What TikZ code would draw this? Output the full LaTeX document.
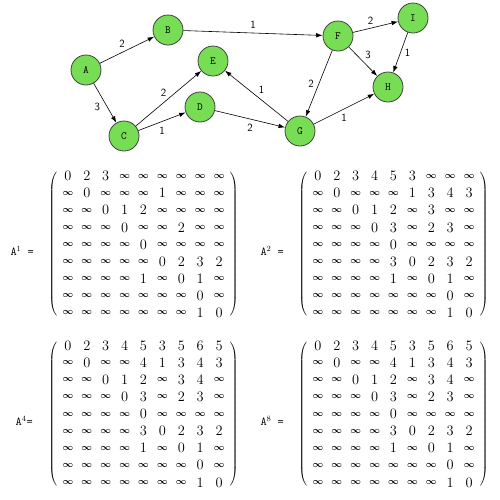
\documentclass[tikz,border=0pt]{standalone}
\usetikzlibrary{matrix,arrows.meta}
\definecolor{vgreen}{HTML}{77DD55}
\newcommand{\oo}{\mbox{\fontsize{9}{9}\selectfont\boldmath$\infty$}}
\begin{document}
\begin{tikzpicture}[x=1pt,y=-1pt,
  vertex/.style={circle,draw=black!75,line width=0.8pt,fill=vgreen,minimum size=30pt,inner sep=0pt,font=\ttfamily\fontsize{11}{11}\selectfont},
  edge/.style={-{Latex[length=6.5pt,width=4.5pt]},line width=0.6pt},
  weight/.style={font=\sffamily\fontsize{11}{11}\selectfont,inner sep=2pt},
  mat/.style={matrix of math nodes,left delimiter=(,right delimiter=),inner xsep=0pt,inner ysep=-3pt,
    nodes={anchor=center,minimum width=18.9pt,minimum height=17.1pt,inner sep=0pt,font=\fontsize{14}{14}\selectfont}},
  lbl/.style={anchor=east,font=\ttfamily\fontsize{12}{12}\selectfont,inner sep=0pt}]
  \useasboundingbox (0,0) rectangle (500,499);
  % graph
  \node[vertex] (A) at (86,70) {A};
  \node[vertex] (B) at (168,30) {B};
  \node[vertex] (C) at (124,136) {C};
  \node[vertex] (D) at (200,107) {D};
  \node[vertex] (E) at (213,61) {E};
  \node[vertex] (F) at (338,36) {F};
  \node[vertex] (G) at (300,131) {G};
  \node[vertex] (H) at (388,87) {H};
  \node[vertex] (I) at (413,18) {I};
  \draw[edge] (A) -- node[weight,above left] {2} (B);
  \draw[edge] (A) -- node[weight,left=5pt,pos=0.6] {3} (C);
  \draw[edge] (B) -- node[weight,above=2pt] {1} (F);
  \draw[edge] (C) -- node[weight,above left] {2} (E);
  \draw[edge] (C) -- node[weight,below=3pt] {1} (D);
  \draw[edge] (D) -- node[weight,below=3pt] {2} (G);
  \draw[edge] (G) -- node[weight,above right] {1} (E);
  \draw[edge] (F) -- node[weight,left=3pt] {2} (G);
  \draw[edge] (F) -- node[weight,above right] {3} (H);
  \draw[edge] (F) -- node[weight,above left] {2} (I);
  \draw[edge] (I) -- node[weight,right=2pt] {1} (H);
  \draw[edge] (G) -- node[weight,below=3pt] {1} (H);
  % matrices
  \node[lbl] (L1) at (34,251) {A$^1$ =};
  \matrix (Aone) at (143.5,244.5) [mat] {
    0 & 2 & 3 & \oo & \oo & \oo & \oo & \oo & \oo \\
    \oo & 0 & \oo & \oo & \oo & 1 & \oo & \oo & \oo \\
    \oo & \oo & 0 & 1 & 2 & \oo & \oo & \oo & \oo \\
    \oo & \oo & \oo & 0 & \oo & \oo & 2 & \oo & \oo \\
    \oo & \oo & \oo & \oo & 0 & \oo & \oo & \oo & \oo \\
    \oo & \oo & \oo & \oo & \oo & 0 & 2 & 3 & 2 \\
    \oo & \oo & \oo & \oo & 1 & \oo & 0 & 1 & \oo \\
    \oo & \oo & \oo & \oo & \oo & \oo & \oo & 0 & \oo \\
    \oo & \oo & \oo & \oo & \oo & \oo & \oo & 1 & 0 \\
  };
  \node[lbl] (L2) at (284,251) {A$^2$ =};
  \matrix (Atwo) at (393.5,244.5) [mat] {
    0 & 2 & 3 & 4 & 5 & 3 & \oo & \oo & \oo \\
    \oo & 0 & \oo & \oo & \oo & 1 & 3 & 4 & 3 \\
    \oo & \oo & 0 & 1 & 2 & \oo & 3 & \oo & \oo \\
    \oo & \oo & \oo & 0 & 3 & \oo & 2 & 3 & \oo \\
    \oo & \oo & \oo & \oo & 0 & \oo & \oo & \oo & \oo \\
    \oo & \oo & \oo & \oo & 3 & 0 & 2 & 3 & 2 \\
    \oo & \oo & \oo & \oo & 1 & \oo & 0 & 1 & \oo \\
    \oo & \oo & \oo & \oo & \oo & \oo & \oo & 0 & \oo \\
    \oo & \oo & \oo & \oo & \oo & \oo & \oo & 1 & 0 \\
  };
  \node[lbl] (L4) at (33,421) {A$^4$=};
  \matrix (Afour) at (143.5,414) [mat] {
    0 & 2 & 3 & 4 & 5 & 3 & 5 & 6 & 5 \\
    \oo & 0 & \oo & \oo & 4 & 1 & 3 & 4 & 3 \\
    \oo & \oo & 0 & 1 & 2 & \oo & 3 & 4 & \oo \\
    \oo & \oo & \oo & 0 & 3 & \oo & 2 & 3 & \oo \\
    \oo & \oo & \oo & \oo & 0 & \oo & \oo & \oo & \oo \\
    \oo & \oo & \oo & \oo & 3 & 0 & 2 & 3 & 2 \\
    \oo & \oo & \oo & \oo & 1 & \oo & 0 & 1 & \oo \\
    \oo & \oo & \oo & \oo & \oo & \oo & \oo & 0 & \oo \\
    \oo & \oo & \oo & \oo & \oo & \oo & \oo & 1 & 0 \\
  };
  \node[lbl] (L8) at (284,421) {A$^8$ =};
  \matrix (Aeight) at (393.5,414) [mat] {
    0 & 2 & 3 & 4 & 5 & 3 & 5 & 6 & 5 \\
    \oo & 0 & \oo & \oo & 4 & 1 & 3 & 4 & 3 \\
    \oo & \oo & 0 & 1 & 2 & \oo & 3 & 4 & \oo \\
    \oo & \oo & \oo & 0 & 3 & \oo & 2 & 3 & \oo \\
    \oo & \oo & \oo & \oo & 0 & \oo & \oo & \oo & \oo \\
    \oo & \oo & \oo & \oo & 3 & 0 & 2 & 3 & 2 \\
    \oo & \oo & \oo & \oo & 1 & \oo & 0 & 1 & \oo \\
    \oo & \oo & \oo & \oo & \oo & \oo & \oo & 0 & \oo \\
    \oo & \oo & \oo & \oo & \oo & \oo & \oo & 1 & 0 \\
  };
\end{tikzpicture}
\end{document}
